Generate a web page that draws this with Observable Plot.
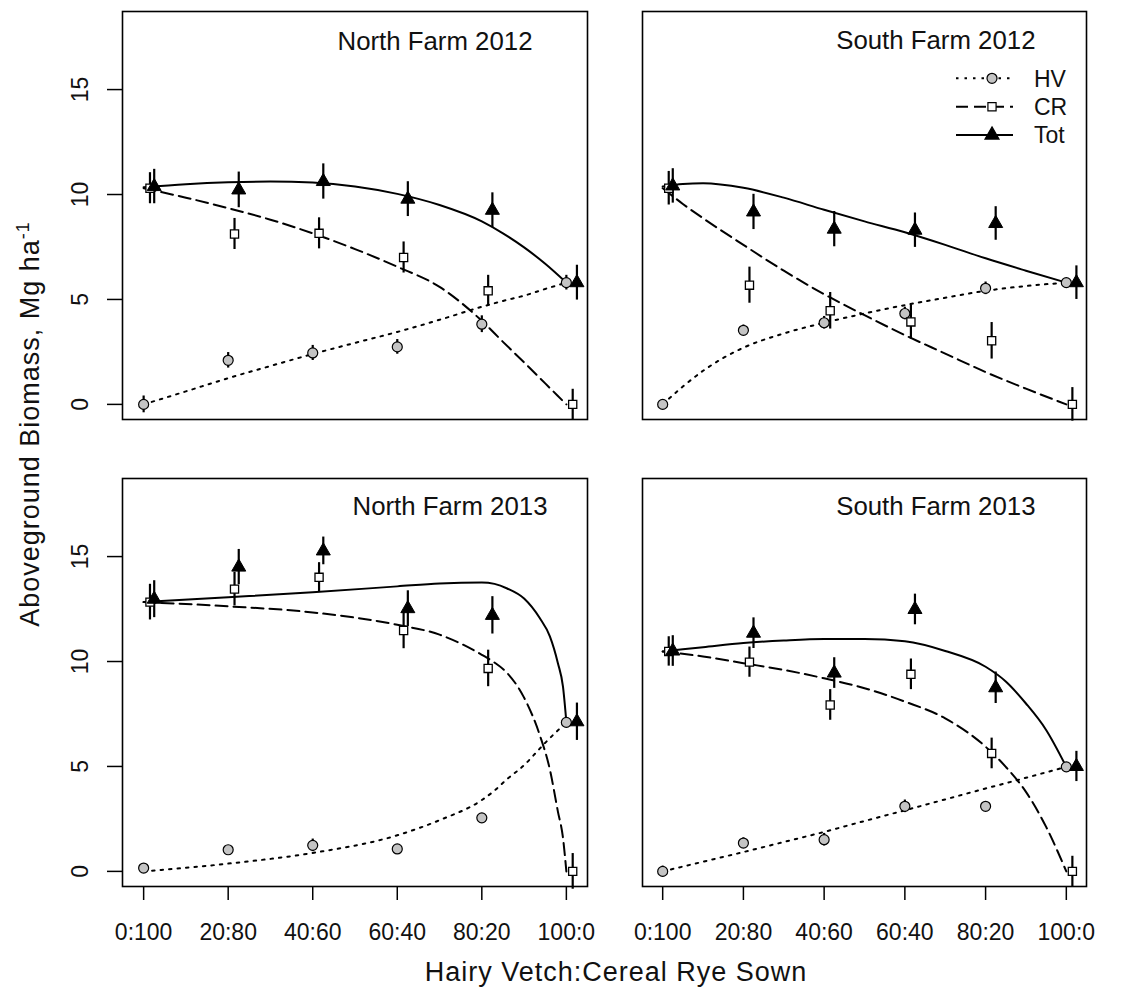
<!DOCTYPE html>
<html>
<head>
<meta charset="utf-8">
<script src="https://cdn.jsdelivr.net/npm/d3@7"></script>
<script src="https://cdn.jsdelivr.net/npm/@observablehq/plot@0.6"></script>
<style>
  body { margin: 0; background: #fff; }
  #chart { position: relative; width: 1123px; height: 988px; background: #fff;
           font-family: "Liberation Sans", Arial, sans-serif; }
  .panel { position: absolute; }
  #overlay { position: absolute; left: 0; top: 0; pointer-events: none; }
</style>
</head>
<body>
<div id="chart"></div>
<script>
// ---------- data ----------
const ratios = [0, 20, 40, 60, 80, 100];
const ratioLabels = ["0:100", "20:80", "40:60", "60:40", "80:20", "100:0"];
const yTicks = [0, 5, 10, 15];
const panelTitles = ["North Farm 2012", "South Farm 2012", "North Farm 2013", "South Farm 2013"];
const seriesNames = ["HV", "CR", "Tot"];

// North Farm 2012
const hvNF12 = [0.0, 2.1, 2.45, 2.74, 3.82, 5.8];
const hvSeNF12 = [0.4, 0.37, 0.36, 0.35, 0.4, 0.35];
const crNF12 = [10.3, 8.12, 8.15, 7.0, 5.41, 0.0];
const crSeNF12 = [0.74, 0.74, 0.74, 0.74, 0.74, 0.72];
const totNF12 = [10.38, 10.22, 10.62, 9.78, 9.25, 5.8];
const totSeNF12 = [0.82, 0.85, 0.84, 0.83, 0.83, 0.83];
const fitXNF12 = [0, 10, 20, 30, 40, 50, 60, 70, 80, 85, 90, 95, 100];
const hvFitNF12 = [0, 0.62, 1.25, 1.83, 2.4, 2.93, 3.45, 4.03, 4.65, 4.93, 5.18, 5.5, 5.8];
const crFitNF12 = [10.3, 9.85, 9.35, 8.8, 8.15, 7.4, 6.56, 5.6, 3.98, 2.98, 2.0, 1.0, 0];
const totFitNF12 = [10.35, 10.49, 10.58, 10.62, 10.57, 10.38, 10.03, 9.5, 8.72, 8.15, 7.48, 6.7, 5.8];

// South Farm 2012
const hvSF12 = [0.0, 3.53, 3.89, 4.33, 5.53, 5.8];
const hvSeSF12 = [0.2, 0.25, 0.3, 0.3, 0.3, 0.2];
const crSF12 = [10.3, 5.68, 4.46, 3.93, 3.03, 0.0];
const crSeSF12 = [0.8, 0.86, 0.87, 0.82, 0.87, 0.8];
const totSF12 = [10.41, 9.17, 8.35, 8.3, 8.62, 5.8];
const totSeSF12 = [0.82, 0.84, 0.84, 0.82, 0.8, 0.8];
const fitXSF12 = [0, 5, 10, 20, 30, 40, 50, 60, 70, 80, 90, 100];
const hvFitSF12 = [0, 0.85, 1.6, 2.7, 3.38, 3.89, 4.33, 4.73, 5.08, 5.41, 5.64, 5.8];
const crFitSF12 = [10.3, 9.55, 8.87, 7.6, 6.37, 5.25, 4.25, 3.3, 2.42, 1.54, 0.75, 0];
const totFitSF12 = [10.38, 10.5, 10.54, 10.32, 9.85, 9.27, 8.72, 8.2, 7.6, 6.96, 6.37, 5.8];

// North Farm 2013
const hvNF13 = [0.16, 1.03, 1.24, 1.07, 2.55, 7.1];
const hvSeNF13 = [0.15, 0.15, 0.3, 0.15, 0.15, 0.2];
const crNF13 = [12.83, 13.45, 14.01, 11.48, 9.67, 0.0];
const crSeNF13 = [0.85, 0.8, 0.7, 0.87, 0.87, 0.85];
const totNF13 = [12.97, 14.5, 15.27, 12.52, 12.2, 7.13];
const totSeNF13 = [0.88, 0.84, 0.66, 0.85, 0.89, 0.89];
const fitXNF13 = [0, 20, 40, 60, 70, 80, 83, 86, 90, 93.7, 96.1, 98, 99.2, 100];
const hvFitNF13 = [0, 0.37, 0.88, 1.72, 2.44, 3.4, 3.85, 4.4, 5.06, 5.85, 6.35, 6.72, 6.95, 7.1];
const crFitNF13 = [12.83, 12.63, 12.34, 11.75, 11.28, 10.32, 9.95, 9.45, 8.28, 6.5, 4.85, 2.85, 1.6, 0];
const totFitNF13 = [12.83, 13.06, 13.3, 13.58, 13.72, 13.77, 13.7, 13.48, 13.0, 12.07, 11.2, 9.92, 8.8, 7.12];

// South Farm 2013
const hvSF13 = [0.0, 1.35, 1.51, 3.1, 3.1, 4.98];
const hvSeSF13 = [0.25, 0.25, 0.3, 0.3, 0.2, 0.2];
const crSF13 = [10.48, 9.97, 7.93, 9.39, 5.62, 0.0];
const crSeSF13 = [0.7, 0.72, 0.73, 0.73, 0.73, 0.72];
const totSF13 = [10.5, 11.35, 9.45, 12.48, 8.75, 5.0];
const totSeSF13 = [0.73, 0.73, 0.73, 0.73, 0.75, 0.72];
const fitXSF13 = [0, 10, 20, 30, 40, 50, 60, 70, 80, 85, 90, 95, 100];
const hvFitSF13 = [0, 0.46, 0.92, 1.4, 1.88, 2.4, 2.91, 3.43, 3.95, 4.2, 4.46, 4.72, 4.98];
const crFitSF13 = [10.48, 10.24, 9.92, 9.6, 9.2, 8.73, 8.09, 7.29, 5.94, 4.98, 3.79, 2.12, 0];
const totFitSF13 = [10.48, 10.68, 10.88, 11.0, 11.07, 11.07, 10.96, 10.5, 9.75, 9.05, 8.0, 6.74, 4.98];

// ---------- styling / layout ----------
const FONT = '"Liberation Sans", Arial, sans-serif';
const offsetHV = 0, offsetCR = 1.5, offsetTot = 2.5;   // horizontal dodge in ratio units
const xDomain = [-5, 105];
const yDomain = [-0.72, 18.72];

const panels = [
  {title: panelTitles[0], hv: hvNF12, hvSe: hvSeNF12, cr: crNF12, crSe: crSeNF12, tot: totNF12, totSe: totSeNF12,
   fx: fitXNF12, hvFit: hvFitNF12, crFit: crFitNF12, totFit: totFitNF12,
   left: 0, top: 0, width: 600, height: 430, mL: 122, mR: 13, mT: 11, mB: 11, yAxis: true, xAxis: false, tdx: -55, tdy: 30},
  {title: panelTitles[1], hv: hvSF12, hvSe: hvSeSF12, cr: crSF12, crSe: crSeSF12, tot: totSF12, totSe: totSeSF12,
   fx: fitXSF12, hvFit: hvFitSF12, crFit: crFitSF12, totFit: totFitSF12,
   left: 600, top: 0, width: 500, height: 430, mL: 42, mR: 14, mT: 11, mB: 11, yAxis: false, xAxis: false, tdx: -51, tdy: 29.5},
  {title: panelTitles[2], hv: hvNF13, hvSe: hvSeNF13, cr: crNF13, crSe: crSeNF13, tot: totNF13, totSe: totSeNF13,
   fx: fitXNF13, hvFit: hvFitNF13, crFit: crFitNF13, totFit: totFitNF13,
   left: 0, top: 430, width: 600, height: 530, mL: 122, mR: 13, mT: 48, mB: 74, yAxis: true, xAxis: true, tdx: -40, tdy: 28},
  {title: panelTitles[3], hv: hvSF13, hvSe: hvSeSF13, cr: crSF13, crSe: crSeSF13, tot: totSF13, totSe: totSeSF13,
   fx: fitXSF13, hvFit: hvFitSF13, crFit: crFitSF13, totFit: totFitSF13,
   left: 600, top: 430, width: 500, height: 530, mL: 42, mR: 14, mT: 48, mB: 74, yAxis: false, xAxis: true, tdx: -51, tdy: 28}
];

function pointRows(means, ses, offset) {
  return ratios.map((r, i) => ({x: r + offset, y: means[i], lo: means[i] - ses[i], hi: means[i] + ses[i]}));
}
function fitRows(xs, ys) {
  return xs.map((x, i) => ({x, y: ys[i]}));
}

const chart = document.getElementById("chart");

for (const p of panels) {
  const hvPts = pointRows(p.hv, p.hvSe, offsetHV);
  const crPts = pointRows(p.cr, p.crSe, offsetCR);
  const totPts = pointRows(p.tot, p.totSe, offsetTot);
  const marks = [
    Plot.line(fitRows(p.fx, p.hvFit), {x: "x", y: "y", curve: "monotone-x", stroke: "#000", strokeWidth: 2, strokeDasharray: "2.5,6"}),
    Plot.line(fitRows(p.fx, p.crFit), {x: "x", y: "y", curve: "monotone-x", stroke: "#000", strokeWidth: 2, strokeDasharray: "12,6"}),
    Plot.line(fitRows(p.fx, p.totFit), {x: "x", y: "y", curve: "monotone-x", stroke: "#000", strokeWidth: 2}),
    Plot.ruleX(hvPts, {x: "x", y1: "lo", y2: "hi", stroke: "#000", strokeWidth: 2.2}),
    Plot.ruleX(crPts, {x: "x", y1: "lo", y2: "hi", stroke: "#000", strokeWidth: 2.2}),
    Plot.ruleX(totPts, {x: "x", y1: "lo", y2: "hi", stroke: "#000", strokeWidth: 2.2}),
    Plot.dot(hvPts, {x: "x", y: "y", r: 5, fill: "#c4c4c4", stroke: "#000", strokeWidth: 1.2}),
    Plot.dot(crPts, {x: "x", y: "y", symbol: "square", r: 4.6, fill: "#fff", stroke: "#000", strokeWidth: 1.3}),
    Plot.dot(totPts, {x: "x", y: "y", symbol: "triangle", r: 5.2, fill: "#000", stroke: "#000", strokeWidth: 1}),
    Plot.text([p.title], {text: d => d, frameAnchor: "top-right", dx: p.tdx, dy: p.tdy, textAnchor: "end",
      lineAnchor: "middle", fontSize: 25.8, fill: "#111"}),
    Plot.frame({stroke: "#000", strokeWidth: 1.6})
  ];
  if (p.yAxis) {
    marks.push(Plot.axisY({ticks: yTicks, tickSize: 15, tickFormat: () => "", label: null, strokeWidth: 1.5}));
    marks.push(Plot.text(yTicks, {y: d => d, text: d => String(d), frameAnchor: "left", dx: -42, rotate: -90,
      textAnchor: "middle", lineAnchor: "middle", fontSize: 23, fill: "#111"}));
  }
  if (p.xAxis) {
    marks.push(Plot.axisX({ticks: ratios, tickSize: 14, tickPadding: 23, label: null, fontSize: 23, strokeWidth: 1.5,
      tickFormat: d => ratioLabels[ratios.indexOf(d)], fill: "#111"}));
  }
  const svg = Plot.plot({
    width: p.width, height: p.height,
    marginLeft: p.mL, marginRight: p.mR, marginTop: p.mT, marginBottom: p.mB,
    x: {domain: xDomain, axis: null},
    y: {domain: yDomain, axis: null},
    style: {fontFamily: FONT, background: "transparent", color: "#000", overflow: "visible"},
    marks
  });
  svg.classList.add("panel");
  svg.style.left = p.left + "px";
  svg.style.top = p.top + "px";
  chart.appendChild(svg);
}

// ---------- overlay: axis titles & legend ----------
const ov = d3.select(chart).append("svg").attr("id", "overlay")
  .attr("width", 1123).attr("height", 988).style("font-family", FONT);

// y-axis title
const yt = ov.append("text")
  .attr("transform", "translate(39,424) rotate(-90)")
  .attr("text-anchor", "middle").attr("font-size", 27).attr("fill", "#111")
  .style("letter-spacing", "1px");
yt.append("tspan").text("Aboveground Biomass, Mg ha");
yt.append("tspan").attr("dy", -10).attr("font-size", 18).text("-1");

// x-axis title
ov.append("text").attr("x", 616).attr("y", 981).attr("text-anchor", "middle")
  .attr("font-size", 27).attr("fill", "#111").style("letter-spacing", "1px")
  .text("Hairy Vetch:Cereal Rye Sown");

// legend (inside South Farm 2012 panel)
const legendRows = [
  {name: seriesNames[0], y: 78.3, dash: "2.5,6", sym: d3.symbolCircle, r: 5, fill: "#c4c4c4"},
  {name: seriesNames[1], y: 106.7, dash: "12,6", sym: d3.symbolSquare, r: 4.6, fill: "#fff"},
  {name: seriesNames[2], y: 135, dash: null, sym: d3.symbolTriangle, r: 5.2, fill: "#000"}
];
for (const row of legendRows) {
  const ln = ov.append("line").attr("x1", 956).attr("x2", 1013).attr("y1", row.y).attr("y2", row.y)
    .attr("stroke", "#000").attr("stroke-width", 2);
  if (row.dash) ln.attr("stroke-dasharray", row.dash);
  ov.append("path")
    .attr("d", d3.symbol(row.sym, Math.PI * row.r * row.r)())
    .attr("transform", `translate(992,${row.y})`)
    .attr("fill", row.fill).attr("stroke", "#000").attr("stroke-width", 1.2);
  ov.append("text").attr("x", 1034).attr("y", row.y).attr("dy", "0.36em")
    .attr("font-size", 23).attr("fill", "#111").text(row.name);
}
</script>
</body>
</html>
